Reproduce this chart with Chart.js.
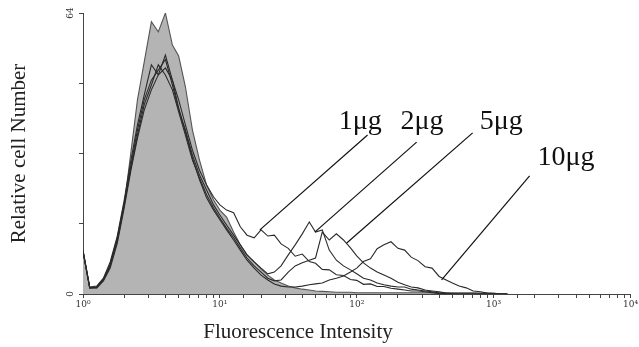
<!DOCTYPE html>
<html>
<head>
<meta charset="utf-8">
<script src="https://cdn.jsdelivr.net/npm/chart.js@4/dist/chart.umd.min.js"></script>
<style>
  body { margin: 0; background: #fff; }
  #c { display: block; }
</style>
</head>
<body>
<canvas id="c" width="639" height="347"></canvas>
<script>
// fluorescence channels (log axis)
var intensity = [1, 1.12, 1.26, 1.41, 1.58, 1.78, 2, 2.24, 2.5, 2.8,
  3.16, 3.55, 4, 4.5, 5, 5.6, 6.3, 7.1, 8, 9,
  10, 11.2, 12.6, 14.1, 15.8, 17.8, 20, 22.4, 25, 28,
  31.6, 35.5, 40, 45, 50, 56, 63, 71, 80, 90,
  100, 112, 126, 141, 158, 178, 200, 224, 250, 280,
  316, 355, 400, 450, 500, 560, 630, 710, 800, 900,
  1000, 1120, 1260];

// control (filled)
var control = [9.8, 1.4, 1.4, 3.2, 6.6, 11.8, 20.3, 32.3, 44.2, 52.8,
  62.0, 59.7, 64.0, 56.7, 54.2, 47.2, 37.4, 30.5, 24.8, 21.4,
  19.1, 17.5, 14.1, 11.2, 8.9, 7.3, 5.7, 4.3, 3.2, 2.5,
  1.8, 1.4, 1.1, 0.9, 0.7, 0.6, 0.5, 0.4, 0.4, 0.4,
  0.3, 0.3, 0.3, 0.3, 0.3, 0.3, 0.3, 0.3, 0.3, 0.3,
  0.3, 0.3, 0.3, 0.3, 0.3, 0.3, 0.3, 0.3, 0.2, 0.2,
  0.2, 0, 0];

var ug1 = [10.0, 1.6, 1.8, 3.6, 7.3, 13.2, 21.4, 30.5, 38.5, 45.3,
  52.2, 49.9, 51.5, 48.7, 44.2, 38.5, 32.8, 28.2, 24.8, 22.1,
  20.3, 19.1, 18.5, 15.3, 13.4, 12.8, 14.6, 13.2, 13.4, 11.4,
  10.4, 8.6, 9.1, 7.4, 7.0, 5.6, 5.5, 4.4, 4.2, 3.3,
  3.1, 2.2, 2.3, 1.7, 1.7, 1.3, 1.1, 0.9, 0.7, 0.7,
  0.5, 0.3, 0.1, 0, 0, 0, 0, 0, 0, 0,
  0, 0, 0];

var ug2 = [9.6, 1.4, 1.6, 3.4, 6.8, 12.8, 20.7, 29.4, 37.4, 44.2,
  48.7, 51.0, 53.4, 47.6, 41.9, 37.4, 31.7, 27.1, 23.7, 20.3,
  18.0, 15.7, 13.4, 11.2, 8.9, 7.3, 5.9, 4.6, 5.0, 6.4,
  8.9, 11.2, 13.7, 16.4, 14.1, 14.6, 10.0, 7.7, 6.4, 5.5,
  4.6, 3.6, 3.2, 2.5, 2.1, 1.8, 1.6, 1.6, 1.1, 0.9,
  0.7, 0.5, 0.2, 0.1, 0, 0, 0, 0, 0, 0,
  0, 0, 0];

var ug5 = [9.8, 1.4, 1.6, 3.2, 6.4, 12.3, 20.3, 28.7, 36.2, 43.1,
  47.6, 52.2, 49.9, 46.5, 41.5, 36.2, 30.5, 26.4, 22.6, 19.6,
  17.3, 15.0, 12.8, 10.5, 8.2, 6.4, 5.0, 3.6, 3.0, 3.2,
  5.0, 6.4, 7.1, 7.7, 8.2, 14.1, 12.3, 13.7, 12.3, 10.5,
  8.7, 7.1, 5.9, 5.0, 4.3, 3.6, 2.7, 2.1, 1.6, 1.4,
  0.9, 0.7, 0.5, 0.2, 0.1, 0, 0, 0, 0, 0,
  0, 0, 0];

var ug10 = [9.6, 1.4, 1.4, 3.0, 5.9, 11.6, 19.6, 28.2, 35.5, 41.9,
  46.5, 49.9, 54.4, 48.7, 42.4, 36.9, 31.0, 26.0, 21.9, 19.1,
  16.9, 14.6, 12.3, 10.0, 7.7, 5.9, 4.3, 3.2, 2.3, 1.8,
  1.6, 1.6, 1.8, 2.1, 2.3, 2.5, 3.2, 3.6, 4.1, 5.0,
  5.9, 7.4, 8.0, 10.3, 11.2, 11.9, 10.4, 10.0, 8.4, 7.6,
  6.2, 5.9, 4.0, 3.2, 2.5, 1.8, 1.4, 0.7, 0.5, 0.2,
  0.1, 0, 0];

var yTicks = [0, 16, 32, 48, 64];
var yLabels = [0, 64];
var decadeLabels = {1: '10\u2070', 10: '10\u00b9', 100: '10\u00b2', 1000: '10\u00b3', 10000: '10\u2074'};
var xTitle = 'Fluorescence Intensity';

// dose labels and leader lines, in data units
var doseNames = ['1\u03bcg', '2\u03bcg', '5\u03bcg', '10\u03bcg'];
var doseLabelX = [74, 209, 791, 2094];
var doseLabelY = [37.6, 37.6, 37.6, 29.4];
var leaderFromX = [120, 274, 703, 1832];
var leaderFromY = [36.2, 34.6, 36.7, 26.9];
var leaderToX = [19.6, 49.4, 84.5, 417];
var leaderToY = [14.6, 14.1, 11.6, 3.2];

function toPoints(arr) {
  var pts = [];
  for (var i = 0; i < arr.length; i++) {
    pts.push({x: intensity[i], y: arr[i]});
  }
  return pts;
}

var annotate = {
  id: 'annotate',
  afterDraw: function(chart) {
    var ctx = chart.ctx;
    var xs = chart.scales.x, ys = chart.scales.y;
    ctx.save();
    // rotated y labels
    ctx.fillStyle = '#333';
    ctx.font = '9px "DejaVu Serif"';
    ctx.textAlign = 'center';
    ctx.textBaseline = 'middle';
    for (var i = 0; i < yLabels.length; i++) {
      ctx.save();
      ctx.translate(xs.left - 12, ys.getPixelForValue(yLabels[i]));
      ctx.rotate(-Math.PI / 2);
      ctx.fillText(String(yLabels[i]), 0, 0);
      ctx.restore();
    }
    // x title, sits left of centre in the original
    ctx.fillStyle = '#222';
    ctx.font = '21px "Liberation Serif"';
    ctx.fillText(xTitle, xs.left + 215, 332);
    // leader lines
    ctx.strokeStyle = '#111';
    ctx.lineWidth = 1.2;
    for (var j = 0; j < doseNames.length; j++) {
      ctx.beginPath();
      ctx.moveTo(xs.getPixelForValue(leaderFromX[j]), ys.getPixelForValue(leaderFromY[j]));
      ctx.lineTo(xs.getPixelForValue(leaderToX[j]), ys.getPixelForValue(leaderToY[j]));
      ctx.stroke();
    }
    // dose text
    ctx.fillStyle = '#111';
    ctx.font = '28px "Liberation Serif"';
    ctx.textAlign = 'left';
    ctx.textBaseline = 'alphabetic';
    for (var k = 0; k < doseNames.length; k++) {
      ctx.fillText(doseNames[k], xs.getPixelForValue(doseLabelX[k]), ys.getPixelForValue(doseLabelY[k]));
    }
    ctx.restore();
  }
};

function lineSet(label, arr) {
  return {
    label: label,
    data: toPoints(arr),
    borderColor: '#2a2a2a',
    borderWidth: 1.1,
    pointRadius: 0,
    fill: false,
    tension: 0,
    order: 0
  };
}

var ctx = document.getElementById('c').getContext('2d');
var myChart = new Chart(ctx, {
  type: 'line',
  data: {
    datasets: [
      lineSet('1\u03bcg', ug1),
      lineSet('2\u03bcg', ug2),
      lineSet('5\u03bcg', ug5),
      lineSet('10\u03bcg', ug10),
      {
        label: 'control',
        data: toPoints(control),
        borderColor: '#555',
        borderWidth: 1.1,
        backgroundColor: '#b4b4b4',
        pointRadius: 0,
        fill: 'origin',
        tension: 0,
        order: 10
      }
    ]
  },
  options: {
    responsive: false,
    devicePixelRatio: 1,
    animation: false,
    layout: {padding: {top: 13, right: 0, left: 0, bottom: 0}},
    plugins: {legend: {display: false}, tooltip: {enabled: false}},
    scales: {
      x: {
        type: 'logarithmic',
        min: 1,
        max: 10000,
        border: {display: true, color: '#444', width: 1},
        grid: {drawOnChartArea: false, drawTicks: true, tickLength: 4, color: '#444'},
        ticks: {
          autoSkip: false,
          maxRotation: 0,
          padding: 1,
          color: '#333',
          font: {family: 'DejaVu Serif', size: 9},
          callback: function(v) { return decadeLabels[v] || ''; }
        },
        afterFit: function(scale) { scale.height = 53; }
      },
      y: {
        min: 0,
        max: 64,
        border: {display: true, color: '#444', width: 1},
        grid: {drawOnChartArea: false, drawTicks: true, tickLength: 4, color: '#444'},
        afterBuildTicks: function(scale) {
          scale.ticks = yTicks.map(function(v) { return {value: v}; });
        },
        ticks: {display: false},
        title: {
          display: true,
          text: 'Relative cell Number',
          color: '#222',
          font: {family: 'Liberation Serif', size: 21},
          padding: {top: 7, bottom: 0}
        },
        afterFit: function(scale) { scale.width = 83; }
      }
    }
  },
  plugins: [annotate]
});
</script>
</body>
</html>
